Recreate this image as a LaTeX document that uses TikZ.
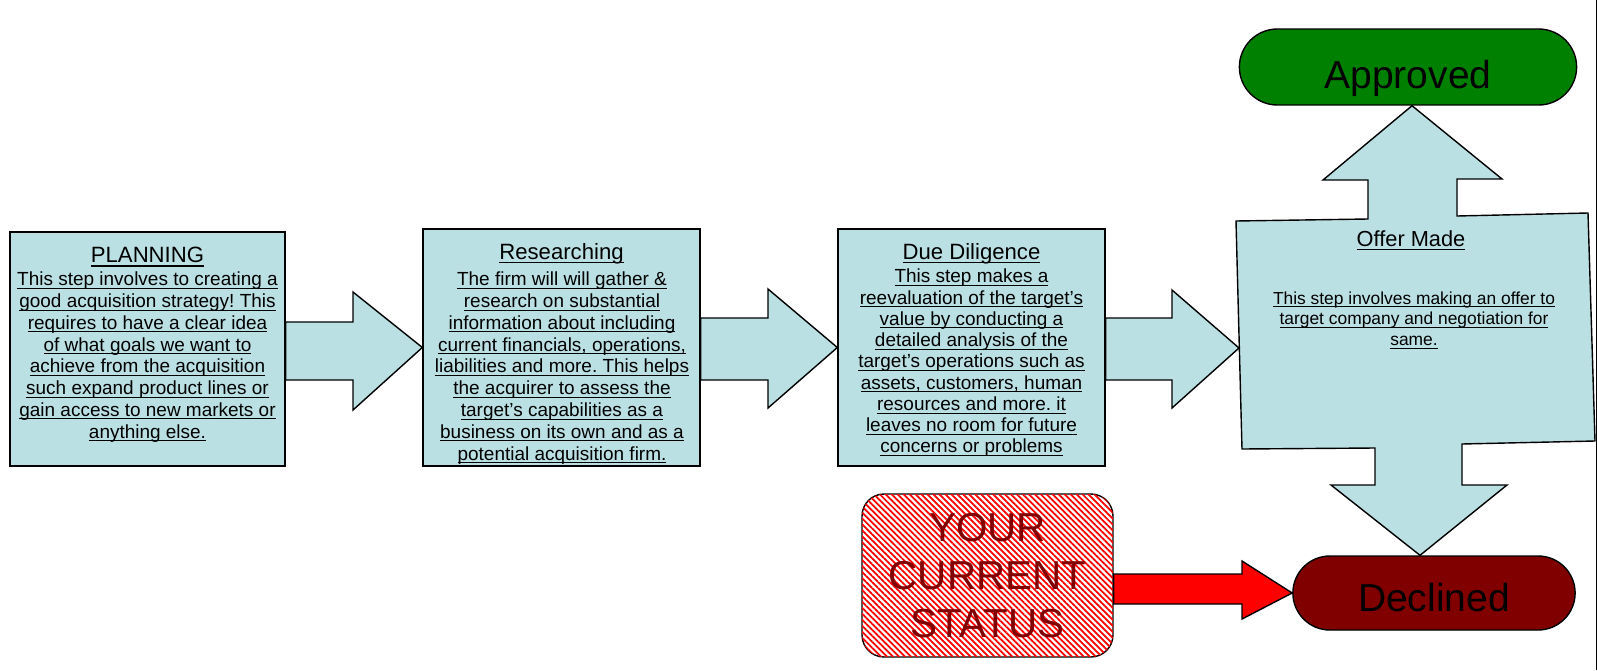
\documentclass[tikz,border=0pt]{standalone}
\usepackage{fontspec}
\setmainfont{Liberation Sans}
\frenchspacing
\newsavebox{\ulbox}
\newcommand{\uln}[1]{\sbox{\ulbox}{#1}\rlap{\rule[-0.16em]{\wd\ulbox}{0.05em}}\usebox{\ulbox}}
\usetikzlibrary{shapes.misc,patterns.meta}
\definecolor{stepblue}{RGB}{187,224,227}
\definecolor{okgreen}{RGB}{0,128,0}
\definecolor{nogood}{RGB}{128,0,0}
\tikzset{
  stepbox/.style={draw=black,line width=0.8pt,fill=stepblue},
  blockarrow/.style={draw=black,line width=0.8pt,fill=stepblue},
  redarrow/.style={draw=black,line width=0.8pt,fill=red},
  steptitle/.style={inner sep=0pt,font=\fontsize{12.6}{14}\selectfont},
  stepbody/.style={inner sep=0pt,align=center,font=\fontsize{10.8}{12.4}\selectfont},
  outcome/.style={rounded rectangle,draw=black,line width=0.8pt,font=\fontsize{22.2}{24}\selectfont},
  statusbox/.style={rectangle,rounded corners=0.44cm,draw=black,line width=0.8pt,fill=white,
    postaction={pattern={Lines[angle=-45,distance=2.4pt,line width=1pt]},pattern color=red},
    minimum width=5.02cm,minimum height=3.26cm,text=nogood,align=center,
    font=\fontsize{23}{27.3}\selectfont}
}
\begin{document}
\begin{tikzpicture}[x=0.02cm,y=-0.02cm]
    \useasboundingbox (0,0) rectangle (1597,670);

    \node[stepbox,minimum width=5.5cm,minimum height=4.68cm] (plan) at (147.5,349) {};
    \node[stepbox,minimum width=5.54cm,minimum height=4.74cm] (research) at (561.5,347.5) {};
    \node[stepbox,minimum width=5.34cm,minimum height=4.74cm] (diligence) at (971.5,347.5) {};
    \node[outcome,fill=okgreen,minimum width=6.98cm,minimum height=1.52cm] (approved) at (1408,67)
        {\raisebox{-12pt}[0pt][0pt]{Approved}};
    \node[outcome,fill=nogood,minimum width=5.88cm,minimum height=1.48cm] (declined) at (1434,593)
        {\raisebox{-10.5pt}[0pt][0pt]{Declined}};
    \coordinate (offerin) at (1239,348);

    % step arrows
    \draw[blockarrow] (plan.east |- 0,322) -- (353,322) -- (353,292) -- (research.west)
        -- (353,410) -- (353,380) -- (plan.east |- 0,380) -- cycle;
    \draw[blockarrow] (research.east |- 0,318) -- (768,318) -- (768,289) -- (diligence.west)
        -- (768,408) -- (768,380) -- (research.east |- 0,380) -- cycle;
    \draw[blockarrow] (diligence.east |- 0,318) -- (1172,318) -- (1172,290) -- (offerin)
        -- (1172,408) -- (1172,380) -- (diligence.east |- 0,380) -- cycle;

    % offer with up and down arrows
    \draw[blockarrow] (1236,221) -- (1368,219) -- (1368,180) -- (1323,180) -- (1412,0 |- approved.south)
        -- (1502,179) -- (1457,179) -- (1457,216) -- (1588,213) -- (1595,441)
        -- (1462,444) -- (1462,485) -- (1507,485) -- (1420,0 |- declined.north)
        -- (1331,485) -- (1375,485) -- (1375,448) -- (1242,449) -- cycle;

    \node[steptitle] (plantitle) at (147.5,257) {\uln{PLANNING}};
    \node[stepbody] (planbody) at (147.5,357) {\uln{This step involves to creating a}\\
        \uln{good acquisition strategy! This}\\ \uln{requires to have a clear idea}\\
        \uln{of what goals we want to}\\ \uln{achieve from the acquisition}\\
        \uln{such expand product lines or}\\ \uln{gain access to new markets or}\\
        \uln{anything else.}};
    \node[steptitle] (researchtitle) at (561.5,254) {\uln{Researching}};
    \node[stepbody] (researchbody) at (562,368) {\uln{The firm will will gather \&}\\
        \uln{research on substantial}\\ \uln{information about including}\\
        \uln{current financials, operations,}\\ \uln{liabilities and more. This helps}\\
        \uln{the acquirer to assess the}\\ \uln{target’s capabilities as a}\\
        \uln{business on its own and as a}\\ \uln{potential acquisition firm.}};
    \node[steptitle] (diligencetitle) at (971.5,254) {\uln{Due Diligence}};
    \node[stepbody,font=\fontsize{10.8}{12.1}\selectfont] (diligencebody) at (971.5,363) {\uln{This step makes a}\\
        \uln{reevaluation of the target’s}\\ \uln{value by conducting a}\\
        \uln{detailed analysis of the}\\ \uln{target’s operations such as}\\
        \uln{assets, customers, human}\\ \uln{resources and more. it}\\
        \uln{leaves no room for future}\\ \uln{concerns or problems}};
    \node[steptitle,font=\fontsize{12.4}{14}\selectfont] (offertitle) at (1411,240) {\uln{Offer Made}};
    \node[stepbody,font=\fontsize{9.9}{11.9}\selectfont] (offerbody) at (1414,320) {\uln{This step involves making an offer to}\\
        \uln{target company and negotiation for}\\ \uln{same.}};

    % current status
    \node[statusbox] (status) at (987.5,575.5) {YOUR\\CURRENT\\STATUS};
    \draw[redarrow] (status.east |- 0,574) -- (1242,574) -- (1242,561) -- (declined.west)
        -- (1242,619) -- (1242,604) -- (status.east |- 0,604) -- cycle;

    \draw[line width=0.6pt] (1596.5,0) -- (1596.5,670);
\end{tikzpicture}
\end{document}
